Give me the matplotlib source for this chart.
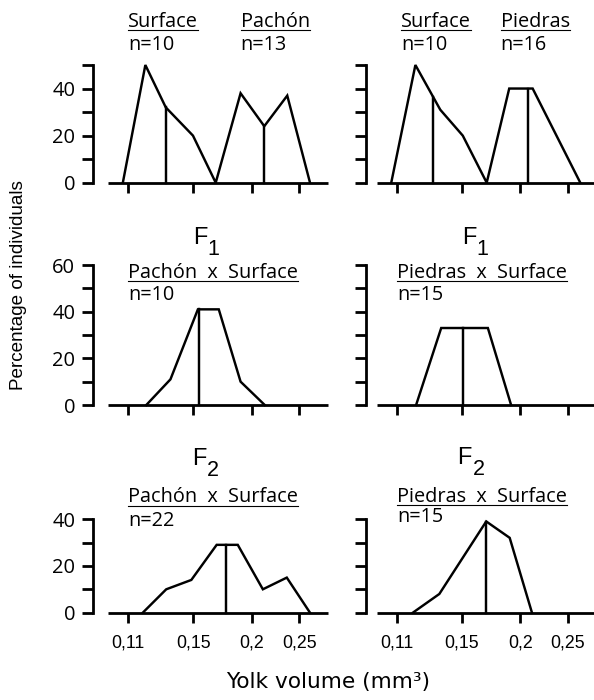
import matplotlib
matplotlib.use('Agg')
import matplotlib.pyplot as plt
from matplotlib.lines import Line2D
from matplotlib.transforms import IdentityTransform
import numpy as np

# bin positions (x) and percentages (y)
top_left_x = [0, 0.96, 1.83, 2.99, 3.96, 5.02, 6.03, 7.01, 7.98]
top_left_y = [0, 50, 32, 20, 0, 38, 24, 37, 0]
top_left_med = [1.83, 6.03]

top_right_x = [0, 1.03, 2.09, 3.05, 4.07, 5.03, 6.03, 8.06]
top_right_y = [0, 50, 31, 20, 0, 40, 40, 0]
top_right_med = [1.8, 5.84]

mid_left_x = [1.0, 2.03, 3.2, 4.09, 5.02, 6.05]
mid_left_y = [0, 11, 41, 41, 10, 0]
mid_left_med = [3.23]

mid_right_x = [1.06, 2.13, 4.12, 5.11]
mid_right_y = [0, 33, 33, 0]
mid_right_med = [3.05]

bot_left_x = [0.85, 1.85, 2.92, 4.0, 4.9, 5.97, 6.99, 7.98]
bot_left_y = [0, 10, 14, 29, 29, 10, 15, 0]
bot_left_med = [4.38]

bot_right_x = [0.92, 2.05, 4.05, 5.05, 6.0]
bot_right_y = [0, 8, 39, 32, 0]
bot_right_med = [4.03]

xtick_pos = [0.23, 3.0, 5.5, 7.53]
xtick_labels = ['0,11', '0,15', '0,2', '0,25']

W, H = 594, 700
fig = plt.figure(figsize=(5.94, 7), dpi=100)

def px_box(x0, y_bot, w, h):
    return [x0 / W, 1 - y_bot / H, w / W, h / H]

lab_font = 'Open Sans'
arial = 'Liberation Sans'
lab_size = 14.3

# (x, y, medians, ylim top, spine top, bottom px, px per unit, column)
panels = [
    (top_left_x, top_left_y, top_left_med, 52, 50, 182.7, 2.354, 0),
    (top_right_x, top_right_y, top_right_med, 52, 50, 182.7, 2.354, 1),
    (mid_left_x, mid_left_y, mid_left_med, 61, 60, 405.0, 2.333, 0),
    (mid_right_x, mid_right_y, mid_right_med, 61, 60, 405.0, 2.333, 1),
    (bot_left_x, bot_left_y, bot_left_med, 41, 40, 612.7, 2.34, 0),
    (bot_right_x, bot_right_y, bot_right_med, 41, 40, 612.7, 2.34, 1),
]

for i, (xs, ys, meds, ytop, stop, ybot, ppu, col) in enumerate(panels):
    x0 = 108.3 if col == 0 else 376.7
    ax = fig.add_axes(px_box(x0, ybot, 220, ytop * ppu))
    ax.plot(xs, ys, color='k', lw=1.75, clip_on=False, solid_joinstyle='miter')
    for m in meds:
        ax.plot([m, m], [0, np.interp(m, xs, ys)], color='k', lw=1.75, clip_on=False)
    ax.set_xlim(-0.62, 8.76)
    ax.set_ylim(0, ytop)
    for s in ['top', 'right']:
        ax.spines[s].set_visible(False)
    ax.spines['left'].set_position(('outward', (15 if col == 0 else 11) * 0.72))
    ax.spines['left'].set_bounds(0, stop)
    ax.spines['left'].set_linewidth(2)
    ax.spines['bottom'].set_linewidth(2)
    ax.spines['bottom'].set_capstyle('butt')
    yt = list(range(0, stop + 1, 10))
    ax.set_yticks(yt)
    if col == 0:
        ax.set_yticklabels([str(v) if v % 20 == 0 else '' for v in yt],
                           fontfamily=lab_font, fontsize=14.5)
    else:
        ax.set_yticklabels([])
    ax.set_xticks(xtick_pos)
    if i >= 4:
        ax.set_xticklabels(xtick_labels, fontfamily=arial, fontsize=12.8)
    else:
        ax.set_xticklabels([])
    ax.tick_params(axis='y', length=8, width=2, pad=5)
    ax.tick_params(axis='x', length=7.5, width=2, pad=8)
    ax.patch.set_visible(False)

def ftext(x, y, s, **kw):
    return fig.text(x / W, 1 - y / H, s, va='baseline', **kw)

heads = []
heads.append(ftext(128.3, 26.7, 'Surface', fontfamily=lab_font, fontsize=lab_size))
heads.append(ftext(240.7, 26.7, 'Pachón', fontfamily=lab_font, fontsize=lab_size))
heads.append(ftext(401.0, 26.7, 'Surface', fontfamily=lab_font, fontsize=lab_size))
heads.append(ftext(500.7, 26.7, 'Piedras', fontfamily=lab_font, fontsize=lab_size))
heads.append(ftext(128.3, 278.3, 'Pachón  x  Surface', fontfamily=lab_font, fontsize=lab_size))
heads.append(ftext(397.3, 278.3, 'Piedras  x  Surface', fontfamily=lab_font, fontsize=lab_size))
heads.append(ftext(128.3, 502.5, 'Pachón  x  Surface', fontfamily=lab_font, fontsize=lab_size))
heads.append(ftext(397.3, 502.0, 'Piedras  x  Surface', fontfamily=lab_font, fontsize=lab_size))

ftext(128.3, 50, 'n=10', fontfamily=lab_font, fontsize=lab_size)
ftext(240.7, 50, 'n=13', fontfamily=lab_font, fontsize=lab_size)
ftext(401.0, 50, 'n=10', fontfamily=lab_font, fontsize=lab_size)
ftext(500.7, 50, 'n=16', fontfamily=lab_font, fontsize=lab_size)
ftext(128.3, 300, 'n=10', fontfamily=lab_font, fontsize=lab_size)
ftext(397.3, 300, 'n=15', fontfamily=lab_font, fontsize=lab_size)
ftext(128.3, 526, 'n=22', fontfamily=lab_font, fontsize=lab_size)
ftext(397.3, 522, 'n=15', fontfamily=lab_font, fontsize=lab_size)

# generation labels
for x, y, sub in [(192.7, 244.3, '1'), (461.7, 244.3, '1'),
                  (191.7, 465.0, '2'), (457.5, 464.3, '2')]:
    ftext(x, y, 'F', fontfamily=arial, fontsize=17)
    ftext(x + 15, y + 11, sub, fontfamily=arial, fontsize=15.5)

fig.text(19 / W, 1 - 285 / H, 'Percentage of individuals', rotation=90,
         ha='center', va='center', fontfamily=arial, fontsize=13.6)
ftext(328, 688, 'Yolk volume (mm³)', ha='center', fontfamily='DejaVu Sans', fontsize=15.6)

# underline the group names
fig.canvas.draw()
r = fig.canvas.get_renderer()
for t in heads:
    bb = t.get_window_extent(r)
    yb = t.get_position()[1] * H - 3
    fig.add_artist(Line2D([bb.x0, bb.x1], [yb, yb], color='k', lw=0.8,
                          transform=IdentityTransform()))

fig.savefig('out.png', dpi=100)
